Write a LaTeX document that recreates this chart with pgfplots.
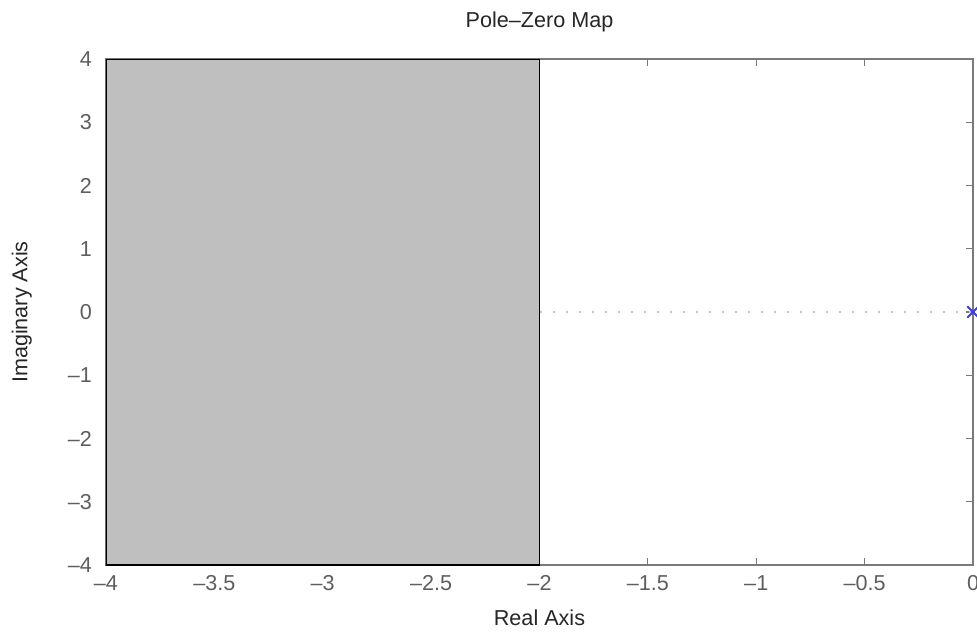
\documentclass[border=0pt]{standalone}
\usepackage{fontspec}
\setmainfont{Liberation Sans}
\usepackage{pgfplots}
\pgfplotsset{compat=1.18}
\definecolor{axgray}{HTML}{7A7A7A}
\definecolor{lblgray}{HTML}{5E5E5E}
\definecolor{fillgray}{HTML}{BFBFBF}
\definecolor{mkblue}{HTML}{3A3AF0}
\begin{document}
\begin{tikzpicture}
\begin{axis}[
  scale only axis,
  width=433.5pt, height=253pt,
  xmin=-4, xmax=0, ymin=-4, ymax=4,
  axis line style={axgray, line width=0.8pt},
  tick style={axgray, line width=0.6pt},
  tick align=inside,
  major tick length=3.5pt,
  xtick={-4,-3.5,-3,-2.5,-2,-1.5,-1,-0.5,0},
  xticklabels={–4,–3.5,–3,–2.5,–2,–1.5,–1,–0.5,0},
  ytick={-4,-3,-2,-1,0,1,2,3,4},
  yticklabels={–4,–3,–2,–1,0,1,2,3,4},
  ticklabel style={font=\fontsize{10.8}{12}\selectfont, text=lblgray},
  xticklabel style={anchor=center, yshift=-9pt},
  yticklabel style={xshift=-3.5pt},
  xlabel={Real Axis},
  ylabel={Imaginary Axis},
  label style={font=\fontsize{10.8}{12}\selectfont, text=black!85},
  xlabel style={at={(axis description cs:0.5,-0.1047)}, anchor=center},
  ylabel style={at={(axis description cs:-0.097,0.5)}, anchor=center, rotate=0},
  title={Pole–Zero Map},
  title style={font=\fontsize{10.8}{12}\selectfont, text=black!85, at={(axis description cs:0.5,1.05)}, anchor=center},
  clip mode=individual,
]
\addplot[fill=fillgray, draw=black, line width=0.7pt] coordinates {(-4,-4) (-2,-4) (-2,4) (-4,4)} -- cycle;
\addplot[gray!45, dash pattern=on 1.4pt off 5.1pt, line width=1.4pt] coordinates {(-2,0) (0,0)};
\addplot[only marks, mark=x, mark size=4pt, mkblue, line width=1pt] coordinates {(0,0)};
\end{axis}
\pgfresetboundingbox
\path[use as bounding box] (-53pt,-33.5pt) rectangle (435.5pt,282.5pt);
\end{tikzpicture}
\end{document}
